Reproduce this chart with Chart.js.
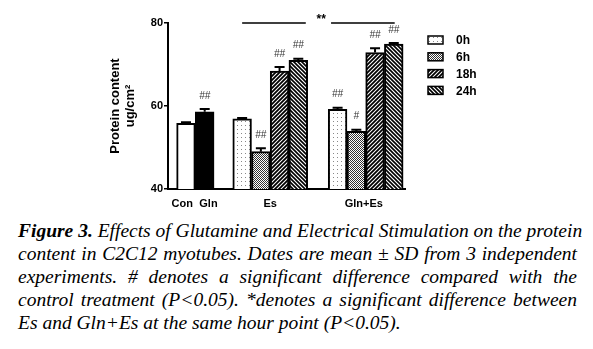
<!DOCTYPE html>
<html>
<head>
<meta charset="utf-8">
<script src="https://cdn.jsdelivr.net/npm/chart.js@4.4.1/dist/chart.umd.min.js"></script>
<style>
  body { margin: 0; background: #fff; width: 593px; height: 349px; overflow: hidden; }
  #chart { position: absolute; left: 0; top: 0; }
  #caption { position: absolute; left: 18px; top: 219px; width: 559px;
    font-family: "Liberation Serif", "Times New Roman", serif; font-style: italic;
    font-size: 19.5px; line-height: 23px; color: #000; }
  #caption div { text-align: justify; text-align-last: justify; white-space: nowrap; }
  #caption div.last { text-align-last: left; }
</style>
</head>
<body>
<canvas id="chart" width="593" height="212"></canvas>
<div id="caption">
  <div><b>Figure 3.</b> Effects of Glutamine and Electrical Stimulation on the protein</div>
  <div>content in C2C12 myotubes. Dates are mean ± SD from 3 independent</div>
  <div>experiments. # denotes a significant difference compared with the</div>
  <div>control treatment (P&lt;0.05). *denotes a significant difference between</div>
  <div class="last">Es and Gln+Es at the same hour point (P&lt;0.05).</div>
</div>
<script>
// values
var xTickLabels = ['Con', 'Gln', 'Es', 'Gln+Es'];
var hourLabels = ['0h', '6h', '18h', '24h'];
var conValues = [55.8, 58.6];
var conSD = [0.3, 0.7];
var conMarks = ['', '##'];
var esValues = [56.9, 49.0, 68.4, 71.0];
var esSD = [0.2, 0.8, 1.0, 0.4];
var esMarks = ['', '##', '##', '##'];
var glnEsValues = [59.2, 53.9, 72.9, 74.9];
var glnEsSD = [0.4, 0.4, 1.0, 0.3];
var glnEsMarks = ['##', '#', '##', '##'];
var yTicks = [40, 60, 80];
var groupMark = '**';

// slot layout on the linear x axis
var conX = [1, 2];
var esStart = 4, glnEsStart = 9.1;
var tickX = [0.8, 2.2, 5.5, 10.5];

function makePattern(kind) {
  var c = document.createElement('canvas');
  var s = 4;
  c.width = s; c.height = s;
  var g = c.getContext('2d');
  g.fillStyle = '#fff';
  g.fillRect(0, 0, s, s);
  if (kind == 0) {
    g.fillStyle = '#888';
    g.fillRect(1, 1, 1, 1);
  } else if (kind == 1) {
    g.fillStyle = '#333';
    g.fillRect(0, 0, 1, 1); g.fillRect(2, 0, 1, 1);
    g.fillRect(1, 1, 1, 1); g.fillRect(3, 1, 1, 1);
    g.fillRect(0, 2, 1, 1); g.fillRect(2, 2, 1, 1);
    g.fillRect(1, 3, 1, 1); g.fillRect(3, 3, 1, 1);
  } else {
    g.strokeStyle = '#000';
    g.lineWidth = kind == 2 ? 1.8 : 1.6;
    g.beginPath();
    if (kind == 2) {
      g.moveTo(-1, 1); g.lineTo(1, -1);
      g.moveTo(0, 4); g.lineTo(4, 0);
      g.moveTo(3, 5); g.lineTo(5, 3);
    } else {
      g.moveTo(-1, 3); g.lineTo(1, 5);
      g.moveTo(0, 0); g.lineTo(4, 4);
      g.moveTo(3, -1); g.lineTo(5, 1);
    }
    g.stroke();
  }
  return document.getElementById('chart').getContext('2d').createPattern(c, 'repeat');
}

var patterns = [0, 1, 2, 3].map(makePattern);

var datasets = [
  { label: 'Con', data: [{ x: conX[0], y: conValues[0] }], sd: [conSD[0]], marks: [conMarks[0]], backgroundColor: '#fff' },
  { label: 'Gln', data: [{ x: conX[1], y: conValues[1] }], sd: [conSD[1]], marks: [conMarks[1]], backgroundColor: '#000' }
];
hourLabels.forEach(function(h, i) {
  datasets.push({
    label: h,
    data: [{ x: esStart + i, y: esValues[i] }, { x: glnEsStart + i, y: glnEsValues[i] }],
    sd: [esSD[i], glnEsSD[i]],
    marks: [esMarks[i], glnEsMarks[i]],
    backgroundColor: patterns[i],
    inLegend: true
  });
});

var extras = {
  id: 'extras',
  afterDatasetsDraw: function(chart) {
    var ctx = chart.ctx, ys = chart.scales.y, xs = chart.scales.x;
    ctx.save();
    chart.data.datasets.forEach(function(ds, i) {
      var meta = chart.getDatasetMeta(i);
      meta.data.forEach(function(bar, j) {
        var top = ys.getPixelForValue(ds.data[j].y + ds.sd[j]);
        ctx.strokeStyle = '#000';
        ctx.lineWidth = 2;
        ctx.beginPath();
        ctx.moveTo(bar.x, bar.y);
        ctx.lineTo(bar.x, top);
        ctx.moveTo(bar.x - 5, top);
        ctx.lineTo(bar.x + 5, top);
        ctx.stroke();
        if (ds.marks[j]) {
          ctx.font = 'italic 10px "Liberation Sans"';
          ctx.fillStyle = '#333';
          ctx.textAlign = 'center';
          ctx.textBaseline = 'middle';
          ctx.fillText(ds.marks[j], bar.x, top - 13);
        }
      });
    });

    // Es vs Gln+Es bracket
    var by = ys.getPixelForValue(80);
    ctx.lineWidth = 1.5;
    ctx.beginPath();
    ctx.moveTo(xs.getPixelForValue(esStart), by);
    ctx.lineTo(xs.getPixelForValue(7.4), by);
    ctx.moveTo(xs.getPixelForValue(8.75), by);
    ctx.lineTo(xs.getPixelForValue(glnEsStart + 3.05), by);
    ctx.stroke();
    ctx.font = 'bold 12px "Liberation Sans"';
    ctx.fillStyle = '#000';
    ctx.textAlign = 'center';
    ctx.textBaseline = 'middle';
    ctx.fillText(groupMark, xs.getPixelForValue(8.22), by - 3);

    // legend
    var lx = chart.chartArea.right + 23, ly = chart.chartArea.top + 17;
    var n = 0;
    chart.data.datasets.forEach(function(ds) {
      if (!ds.inLegend) return;
      var cy = ly + n * 16.8;
      ctx.fillStyle = ds.backgroundColor;
      ctx.fillRect(lx, cy - 4, 15, 8);
      ctx.lineWidth = 1.5;
      ctx.strokeStyle = '#000';
      ctx.strokeRect(lx, cy - 4, 15, 8);
      ctx.fillStyle = '#000';
      ctx.font = 'bold 12px "Liberation Sans"';
      ctx.textAlign = 'left';
      ctx.fillText(ds.label, lx + 28, cy + 1);
      n++;
    });
    ctx.restore();
  }
};

new Chart(document.getElementById('chart'), {
  type: 'bar',
  data: { datasets: datasets },
  options: {
    responsive: false,
    animation: false,
    devicePixelRatio: 1,
    layout: { padding: { left: 108, right: 188, top: 23, bottom: 0 } },
    datasets: {
      bar: { grouped: false, barPercentage: 1, categoryPercentage: 1, borderWidth: 2, borderColor: '#000' }
    },
    plugins: { legend: { display: false }, tooltip: { enabled: false } },
    scales: {
      x: {
        type: 'linear', min: 0.04, max: 12.7, offset: false,
        grid: { display: false },
        border: { display: true, color: '#000', width: 2 },
        afterBuildTicks: function(s) { s.ticks = tickX.map(function(v) { return { value: v }; }); },
        afterFit: function(s) { s.height = 23; },
        ticks: {
          autoSkip: false, maxRotation: 0, padding: 0, color: '#000',
          font: { family: 'Liberation Sans', weight: 'bold', size: 11 },
          callback: function(v, i) { return xTickLabels[i]; }
        }
      },
      y: {
        min: 40, max: 80,
        afterBuildTicks: function(s) { s.ticks = yTicks.map(function(v) { return { value: v }; }); },
        afterFit: function(s) { s.width = 60; },
        grid: { drawOnChartArea: false, drawTicks: true, tickLength: 4, color: '#000', lineWidth: 1.5 },
        border: { display: true, color: '#000', width: 2 },
        ticks: { padding: 1, color: '#000', font: { family: 'Liberation Sans', weight: 'bold', size: 11 } },
        title: {
          display: true, text: ['Protein content', 'ug/cm²'], color: '#000', padding: 0,
          font: { family: 'Liberation Sans', weight: 'bold', size: 13, lineHeight: 1.15 }
        }
      }
    }
  },
  plugins: [extras]
});
</script>
</body>
</html>
